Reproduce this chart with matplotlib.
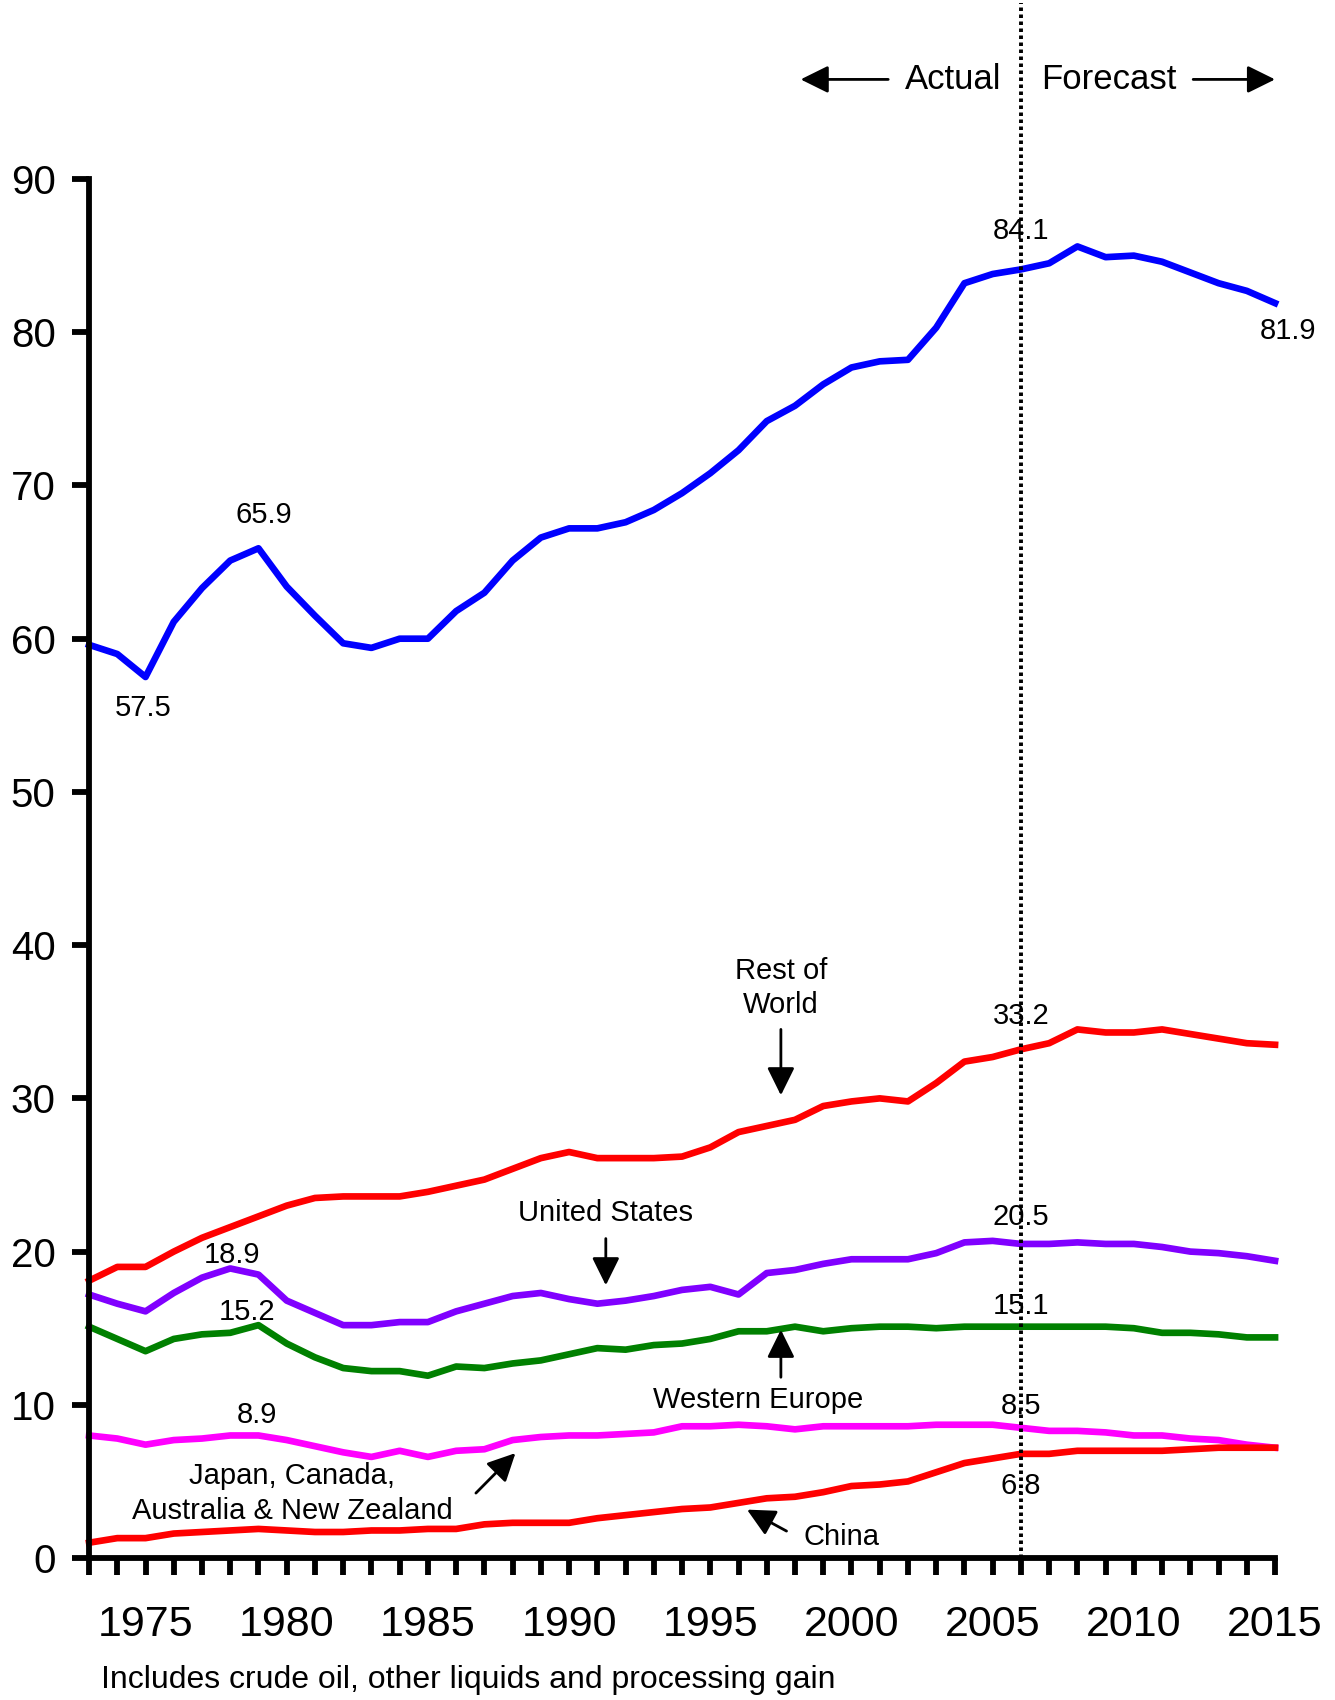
import numpy as np
import matplotlib.pyplot as plt

plt.rcParams['font.family'] = ['Liberation Sans', 'DejaVu Sans']

years = np.arange(1973, 2016)

world = [59.6, 59.0, 57.5, 61.1, 63.3, 65.1, 65.9, 63.4, 61.5, 59.7,
         59.4, 60.0, 60.0, 61.8, 63.0, 65.1, 66.6, 67.2, 67.2, 67.6,
         68.4, 69.5, 70.8, 72.3, 74.2, 75.2, 76.6, 77.7, 78.1, 78.2,
         80.3, 83.2, 83.8, 84.1, 84.5, 85.6, 84.9, 85.0, 84.6, 83.9,
         83.2, 82.7, 81.9]
rest_of_world = [18.1, 19.0, 19.0, 20.0, 20.9, 21.6, 22.3, 23.0, 23.5, 23.6,
                 23.6, 23.6, 23.9, 24.3, 24.7, 25.4, 26.1, 26.5, 26.1, 26.1,
                 26.1, 26.2, 26.8, 27.8, 28.2, 28.6, 29.5, 29.8, 30.0, 29.8,
                 31.0, 32.4, 32.7, 33.2, 33.6, 34.5, 34.3, 34.3, 34.5, 34.2,
                 33.9, 33.6, 33.5]
united_states = [17.2, 16.6, 16.1, 17.3, 18.3, 18.9, 18.5, 16.8, 16.0, 15.2,
                 15.2, 15.4, 15.4, 16.1, 16.6, 17.1, 17.3, 16.9, 16.6, 16.8,
                 17.1, 17.5, 17.7, 17.2, 18.6, 18.8, 19.2, 19.5, 19.5, 19.5,
                 19.9, 20.6, 20.7, 20.5, 20.5, 20.6, 20.5, 20.5, 20.3, 20.0,
                 19.9, 19.7, 19.4]
western_europe = [15.1, 14.3, 13.5, 14.3, 14.6, 14.7, 15.2, 14.0, 13.1, 12.4,
                  12.2, 12.2, 11.9, 12.5, 12.4, 12.7, 12.9, 13.3, 13.7, 13.6,
                  13.9, 14.0, 14.3, 14.8, 14.8, 15.1, 14.8, 15.0, 15.1, 15.1,
                  15.0, 15.1, 15.1, 15.1, 15.1, 15.1, 15.1, 15.0, 14.7, 14.7,
                  14.6, 14.4, 14.4]
japan_etc = [8.0, 7.8, 7.4, 7.7, 7.8, 8.0, 8.0, 7.7, 7.3, 6.9,
             6.6, 7.0, 6.6, 7.0, 7.1, 7.7, 7.9, 8.0, 8.0, 8.1,
             8.2, 8.6, 8.6, 8.7, 8.6, 8.4, 8.6, 8.6, 8.6, 8.6,
             8.7, 8.7, 8.7, 8.5, 8.3, 8.3, 8.2, 8.0, 8.0, 7.8,
             7.7, 7.4, 7.2]
china = [1.0, 1.3, 1.3, 1.6, 1.7, 1.8, 1.9, 1.8, 1.7, 1.7,
         1.8, 1.8, 1.9, 1.9, 2.2, 2.3, 2.3, 2.3, 2.6, 2.8,
         3.0, 3.2, 3.3, 3.6, 3.9, 4.0, 4.3, 4.7, 4.8, 5.0,
         5.6, 6.2, 6.5, 6.8, 6.8, 7.0, 7.0, 7.0, 7.0, 7.1,
         7.2, 7.2, 7.2]

fig = plt.figure(figsize=(13.35, 17), dpi=100)
ax = fig.add_axes([0.0667, 0.0835, 0.8884, 0.8112])

lw = 4.8
ax.plot(years, world, color='#0000ff', lw=lw, clip_on=False)
ax.plot(years, rest_of_world, color='#ff0000', lw=lw, clip_on=False)
ax.plot(years, united_states, color='#8000ff', lw=lw, clip_on=False)
ax.plot(years, western_europe, color='#008000', lw=lw, clip_on=False)
ax.plot(years, japan_etc, color='#ff00ff', lw=lw, clip_on=False)
ax.plot(years, china, color='#ff0000', lw=lw, clip_on=False)

# actual / forecast split
ax.plot([2006, 2006], [0, 101.5], color='k', ls=(0, (0.9, 0.9)), lw=2.8,
        clip_on=False, zorder=5)

ax.set_xlim(1973, 2015)
ax.set_ylim(0, 90)
ax.set_yticks(np.arange(0, 91, 10))
ax.set_xticks(years)
ax.set_xticklabels([str(y) if y % 5 == 0 else '' for y in years])

for s in ['top', 'right']:
    ax.spines[s].set_visible(False)
for s in ['left', 'bottom']:
    ax.spines[s].set_linewidth(4.2)
ax.tick_params(axis='both', direction='out', length=12, width=4.2)
ax.tick_params(axis='x', labelsize=31, pad=22)
ax.tick_params(axis='y', labelsize=29, pad=12)

fs = 21
txt = dict(ha='center', va='center', fontsize=fs)
ax.text(1979.2, 68.1, '65.9', **txt)
ax.text(1974.9, 55.5, '57.5', **txt)
ax.text(2006.0, 86.6, '84.1', **txt)
ax.text(2015.45, 80.1, '81.9', clip_on=False, **txt)
ax.text(1997.5, 37.2, 'Rest of\nWorld', linespacing=1.3, **txt)
ax.text(2006.0, 35.4, '33.2', **txt)
ax.text(1991.3, 22.55, 'United States', **txt)
ax.text(2006.0, 22.26, '20.5', **txt)
ax.text(1978.07, 19.8, '18.9', **txt)
ax.text(1978.6, 16.05, '15.2', **txt)
ax.text(2006.0, 16.45, '15.1', **txt)
ax.text(1996.7, 10.3, 'Western Europe', **txt)
ax.text(1978.95, 9.33, '8.9', **txt)
ax.text(2006.0, 9.95, '8.5', **txt)
ax.text(2006.0, 4.7, '6.8', **txt)
ax.text(1980.2, 4.2, 'Japan, Canada,\nAustralia & New Zealand', linespacing=1.3, **txt)
ax.text(1999.65, 1.37, 'China', **txt)

arw = dict(arrowstyle='-|>,head_length=0.85,head_width=0.42', lw=2, color='k',
           mutation_scale=20, shrinkA=0, shrinkB=0)
ax.annotate('', xy=(1997.5, 30.2), xytext=(1997.5, 34.5), arrowprops=arw)
ax.annotate('', xy=(1991.3, 17.8), xytext=(1991.3, 20.85), arrowprops=arw)
ax.annotate('', xy=(1997.5, 14.9), xytext=(1997.5, 11.8), arrowprops=arw)
ax.annotate('', xy=(1988.1, 6.85), xytext=(1986.7, 4.24), arrowprops=arw)
ax.annotate('', xy=(1996.3, 3.16), xytext=(1997.7, 1.76), arrowprops=arw)

# actual / forecast header
ax.text(2003.6, 96.5, 'Actual', ha='center', va='center', fontsize=25, clip_on=False)
ax.text(2009.1, 96.5, 'Forecast', ha='center', va='center', fontsize=25, clip_on=False)
ax.annotate('', xy=(1998.2, 96.5), xytext=(2001.3, 96.5), arrowprops=arw,
            annotation_clip=False)
ax.annotate('', xy=(2015.0, 96.5), xytext=(2012.1, 96.5), arrowprops=arw,
            annotation_clip=False)

fig.text(0.0755, 0.0118, 'Includes crude oil, other liquids and processing gain',
         ha='left', va='center', fontsize=23)

plt.savefig('out.png', dpi=100)
